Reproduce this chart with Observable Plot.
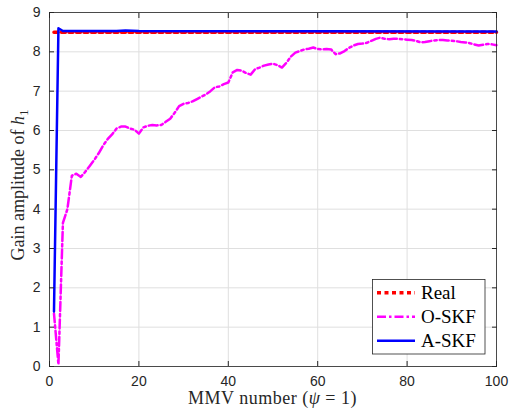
<!DOCTYPE html>
<html>
<head>
<meta charset="utf-8">
<script src="https://cdn.jsdelivr.net/npm/d3@7"></script>
<script src="https://cdn.jsdelivr.net/npm/@observablehq/plot@0.6"></script>
<style>
  html, body { margin: 0; padding: 0; background: #fff; }
  #chart { width: 509px; height: 416px; }
</style>
</head>
<body>
<div id="chart"></div>
<script>
// ---- data ----
const xTicks = [0, 20, 40, 60, 80, 100];
const yTicks = [0, 1, 2, 3, 4, 5, 6, 7, 8, 9];
const seriesNames = ["Real", "O-SKF", "A-SKF"];

const realX = [1, 100];
const realY = [8.5, 8.5];

const oskfY = [
  1.35, 0.05, 3.65, 4.0, 4.85, 4.9, 4.82, 4.95, 5.1, 5.25,
  5.42, 5.62, 5.78, 5.9, 6.05, 6.1, 6.1, 6.05, 6.02, 5.92,
  6.08, 6.12, 6.14, 6.13, 6.14, 6.22, 6.3, 6.45, 6.62, 6.68,
  6.7, 6.74, 6.8, 6.86, 6.92, 7.0, 7.1, 7.12, 7.18, 7.22,
  7.48, 7.54, 7.52, 7.46, 7.42, 7.56, 7.6, 7.65, 7.68, 7.7,
  7.66, 7.6, 7.72, 7.88, 7.98, 8.02, 8.06, 8.08, 8.11, 8.07,
  8.06, 8.07, 8.06, 7.94, 7.96, 8.02, 8.1, 8.16, 8.2, 8.21,
  8.23, 8.28, 8.33, 8.36, 8.33, 8.32, 8.33, 8.33, 8.32, 8.31,
  8.3, 8.28, 8.24, 8.25, 8.27, 8.29, 8.3, 8.3, 8.29, 8.28,
  8.27, 8.25, 8.24, 8.22, 8.19, 8.16, 8.18, 8.2, 8.19, 8.17
];
const oskfX = oskfY.map((_, i) => i + 1);

const askfX = [1, 2, 3, 15, 17, 20, 100];
const askfY = [1.4, 8.6, 8.53, 8.53, 8.54, 8.53, 8.52];

// ---- styles ----
const styles = {
  "Real":  {stroke: "#ff0000", strokeWidth: 3.5, dash: "4,3.5"},
  "O-SKF": {stroke: "#ff00ff", strokeWidth: 2.5, dash: "9,3,2.5,3"},
  "A-SKF": {stroke: "#0000ff", strokeWidth: 2.5, dash: null}
};

const realData = realX.map((x, i) => ({x, y: realY[i]}));
const oskfData = oskfX.map((x, i) => ({x, y: oskfY[i]}));
const askfData = askfX.map((x, i) => ({x, y: askfY[i]}));

const tickFont = "Liberation Sans, Arial, sans-serif";
const serif = "Liberation Serif, Times New Roman, serif";

const plot = Plot.plot({
  width: 509,
  height: 416,
  marginLeft: 49,
  marginRight: 13,
  marginTop: 12,
  marginBottom: 50,
  style: {background: "#fff", fontFamily: tickFont, fontSize: "14px", color: "#262626"},
  x: {domain: [0, 100], label: null},
  y: {domain: [0, 9], label: null},
  marks: [
    Plot.gridX(xTicks, {stroke: "#dfdfdf", strokeOpacity: 1}),
    Plot.gridY(yTicks, {stroke: "#dfdfdf", strokeOpacity: 1}),
    Plot.line(realData, {x: "x", y: "y", stroke: styles.Real.stroke, strokeWidth: styles.Real.strokeWidth, strokeDasharray: styles.Real.dash}),
    Plot.line(oskfData, {x: "x", y: "y", stroke: styles["O-SKF"].stroke, strokeWidth: styles["O-SKF"].strokeWidth, strokeDasharray: styles["O-SKF"].dash}),
    Plot.line(askfData, {x: "x", y: "y", stroke: styles["A-SKF"].stroke, strokeWidth: styles["A-SKF"].strokeWidth}),
    Plot.frame({stroke: "#262626", strokeWidth: 0.8}),
    Plot.axisX(xTicks, {anchor: "bottom", tickSize: 0, tickPadding: 10, fontSize: 14, fill: "#262626"}),
    Plot.axisX(xTicks, {anchor: "bottom", tickSize: -5, tickFormat: () => "", stroke: "#262626"}),
    Plot.axisX(xTicks, {anchor: "top", tickSize: -5, tickFormat: () => "", stroke: "#262626"}),
    Plot.axisY(yTicks, {anchor: "left", tickSize: 0, tickPadding: 9, fontSize: 14, fill: "#262626"}),
    Plot.axisY(yTicks, {anchor: "left", tickSize: -5, tickFormat: () => "", stroke: "#262626"}),
    Plot.axisY(yTicks, {anchor: "right", tickSize: -5, tickFormat: () => "", stroke: "#262626"})
  ]
});

document.getElementById("chart").appendChild(plot);

// ---- axis titles (serif, with italics) ----
const svg = d3.select(plot);
const xl = svg.append("text")
  .attr("x", 272.5).attr("y", 404)
  .attr("text-anchor", "middle")
  .attr("letter-spacing", 0.5)
  .attr("font-family", serif).attr("font-size", 18).attr("fill", "#262626");
xl.append("tspan").text("MMV number (");
xl.append("tspan").attr("font-style", "italic").text("ψ");
xl.append("tspan").text(" = 1)");

const yl = svg.append("text")
  .attr("transform", "translate(24,185) rotate(-90)")
  .attr("text-anchor", "middle")
  .attr("font-family", serif).attr("font-size", 18).attr("fill", "#262626");
yl.append("tspan").text("Gain amplitude of ");
yl.append("tspan").attr("font-style", "italic").text("h");
yl.append("tspan").attr("font-size", 13).attr("dy", 4).text("1");

// ---- legend ----
const lg = svg.append("g");
lg.append("rect").attr("x", 372.5).attr("y", 279.5).attr("width", 112.5).attr("height", 74.5)
  .attr("fill", "#fff").attr("stroke", "#262626").attr("stroke-width", 0.8);
seriesNames.forEach((name, i) => {
  const yy = 292.7 + i * 24;
  const s = styles[name];
  lg.append("line").attr("x1", 377).attr("x2", 415).attr("y1", yy).attr("y2", yy)
    .attr("stroke", s.stroke).attr("stroke-width", s.strokeWidth)
    .attr("stroke-dasharray", s.dash);
  lg.append("text").attr("x", 421).attr("y", yy + 6.5)
    .attr("text-anchor", "start")
    .attr("font-family", serif).attr("font-size", 19).attr("fill", "#000").text(name);
});
</script>
</body>
</html>
